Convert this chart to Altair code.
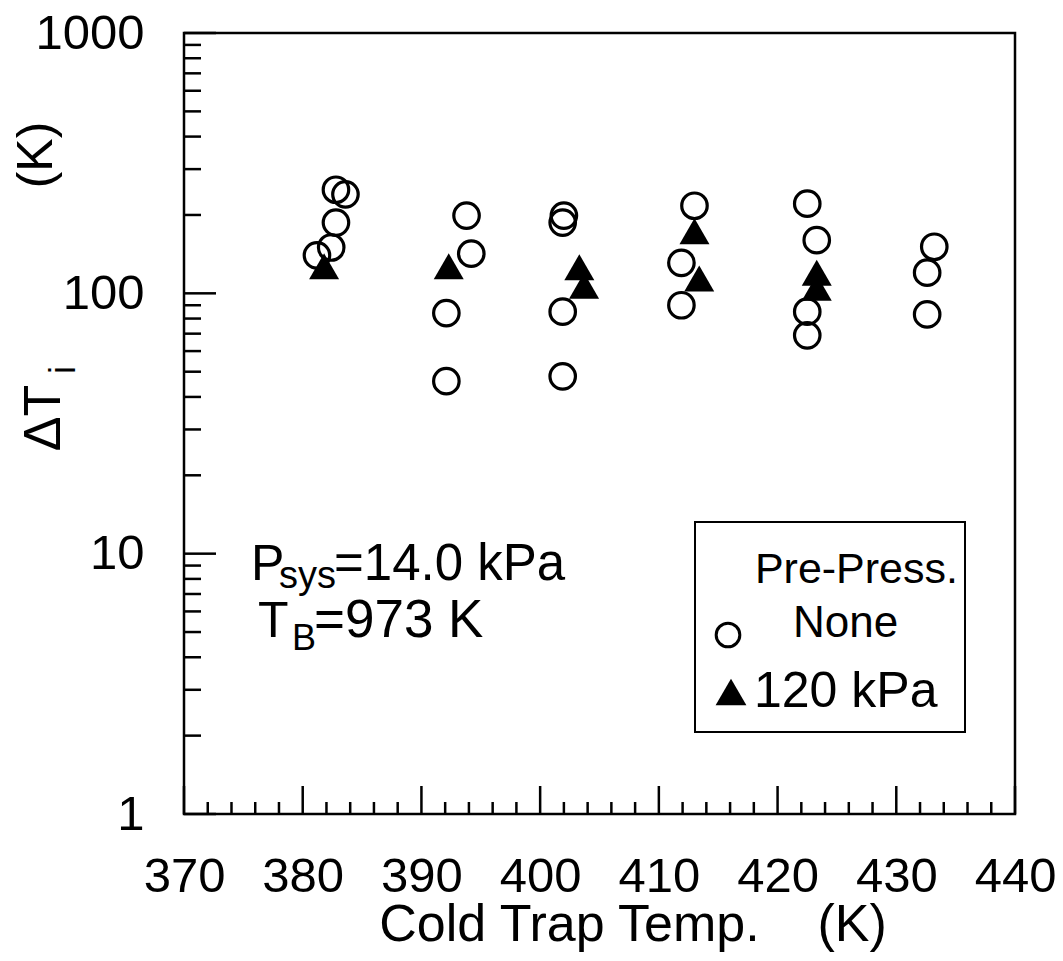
import altair as alt
import pandas as pd

# ---- data ----
none_T = [381.2, 382.4, 382.8, 382.8, 383.6,
          393.8, 394.2, 392.1, 392.1,
          402.0, 401.9, 401.9, 401.9,
          413.0, 411.9, 411.9,
          422.5, 423.3, 422.5, 422.5,
          433.2, 432.6, 432.6]
none_dT = [140, 150, 187, 250, 240,
           199, 142, 84, 46,
           199, 187, 85, 48,
           217, 131, 90,
           221, 160, 85, 69,
           151, 120, 83]

p120_T = [381.8, 392.3, 403.3, 403.7, 413.0, 413.4, 423.3, 423.3]
p120_dT = [127, 127, 126, 107, 173, 114, 120, 105]

x_major = [370, 380, 390, 400, 410, 420, 430, 440]
x_minor = [v for v in range(372, 440, 2) if v % 10 != 0]
y_major = [1, 10, 100, 1000]
y_minor = [m * d for d in (1, 10, 100) for m in range(2, 10)]

W, H = 831, 781
PAD_L, PAD_T, PAD_R, PAD_B = 176, 25, 40, 138
OX, OY = 8 + PAD_L, 8 + PAD_T  # absolute page position of the plot origin
FONT = "Liberation Sans"

xs = alt.Scale(domain=[370, 440], nice=False, zero=False)
ys = alt.Scale(type="log", domain=[1, 1000], nice=False)

df_none = pd.DataFrame({"T": none_T, "dT": none_dT})
df_120 = pd.DataFrame({"T": p120_T, "dT": p120_dT})

base_axes = alt.Chart(pd.DataFrame({"T": [370], "dT": [1]})).mark_point(opacity=0).encode(
    x=alt.X("T:Q", scale=xs,
            axis=alt.Axis(values=x_major, title=None, ticks=False, tickSize=0, domain=False,
                          grid=False, labelFontSize=49, labelFont=FONT, labelColor="black",
                          labelPadding=38, labelFlush=False, format="d")),
    y=alt.Y("dT:Q", scale=ys,
            axis=alt.Axis(values=y_major, title=None, ticks=False, tickSize=0, domain=False,
                          grid=False, labelFontSize=49, labelFont=FONT, labelColor="black",
                          labelPadding=40, labelFlush=False, format="d")),
)

circles = alt.Chart(df_none).mark_point(
    shape="circle", filled=False, stroke="black", strokeWidth=3.2, size=650, opacity=1
).encode(x=alt.X("T:Q", scale=xs), y=alt.Y("dT:Q", scale=ys))

tris = alt.Chart(df_120).mark_point(
    shape="triangle-up", filled=True, fill="black", size=900, opacity=1
).encode(x=alt.X("T:Q", scale=xs), y=alt.Y("dT:Q", scale=ys))

xmaj = alt.Chart(pd.DataFrame({"T": x_major})).mark_rule(color="black", strokeWidth=2.5).encode(
    x=alt.X("T:Q", scale=xs), y=alt.value(H), y2=alt.value(H - 28))
xmin = alt.Chart(pd.DataFrame({"T": x_minor})).mark_rule(color="black", strokeWidth=2.5).encode(
    x=alt.X("T:Q", scale=xs), y=alt.value(H), y2=alt.value(H - 12))
ymaj = alt.Chart(pd.DataFrame({"dT": y_major})).mark_rule(color="black", strokeWidth=2.5).encode(
    y=alt.Y("dT:Q", scale=ys), x=alt.value(0), x2=alt.value(32))
ymin = alt.Chart(pd.DataFrame({"dT": y_minor})).mark_rule(color="black", strokeWidth=2.5).encode(
    y=alt.Y("dT:Q", scale=ys), x=alt.value(0), x2=alt.value(17))


def txt(s, ax, ay, size, align="left", angle=0, baseline="alphabetic"):
    """Text placed at absolute page coordinates (ax, ay)."""
    kw = dict(align=align, baseline=baseline, font=FONT, fontSize=size, color="black")
    if angle:
        kw["angle"] = angle
    return alt.Chart(pd.DataFrame({"t": [s]})).mark_text(**kw).encode(
        text="t:N", x=alt.value(ax - OX), y=alt.value(ay - OY))


texts = [
    # x title
    txt("Cold Trap Temp.\u00a0\u00a0\u00a0\u00a0(K)", 633, 941, 52, align="center"),
    # y title
    txt("\u0394T", 60, 418, 52, align="center", angle=270),
    txt("i", 75, 370, 36, align="center", angle=270),
    txt("(K)", 52, 155, 50, align="center", angle=270),
    # annotation
    txt("P", 251, 580, 50),
    txt("sys", 279, 588, 38),
    txt("=14.0 kPa", 334, 580, 51),
    txt("T", 258, 637, 50),
    txt("B", 292, 650, 36),
    txt("=973 K", 314, 637, 53),
    # legend text
    txt("Pre-Press.", 958, 583, 43, align="right"),
    txt("None", 793, 637, 44),
    txt("120 kPa", 754, 707, 50),
]

legend_box = alt.Chart(pd.DataFrame({"a": [0]})).mark_rect(
    fill="white", fillOpacity=0, stroke="black", strokeWidth=2
).encode(x=alt.value(695 - OX), x2=alt.value(965 - OX),
         y=alt.value(522 - OY), y2=alt.value(732 - OY))

leg_circle = alt.Chart(pd.DataFrame({"a": [0]})).mark_point(
    shape="circle", filled=False, stroke="black", strokeWidth=3, size=560, opacity=1
).encode(x=alt.value(728 - OX), y=alt.value(635 - OY))
leg_tri = alt.Chart(pd.DataFrame({"a": [0]})).mark_point(
    shape="triangle-up", filled=True, fill="black", size=950, opacity=1
).encode(x=alt.value(731 - OX), y=alt.value(692 - OY))

chart = alt.layer(
    base_axes, xmin, xmaj, ymin, ymaj, circles, tris, legend_box, leg_circle, leg_tri, *texts
).properties(
    width=W, height=H,
    autosize=alt.AutoSizeParams(type="none"),
    padding={"left": PAD_L, "top": PAD_T, "right": PAD_R, "bottom": PAD_B},
    background="white",
).configure_view(
    stroke="black", strokeWidth=2.5
)

chart.save("out.html", embed_options={"renderer": "svg", "actions": False})
